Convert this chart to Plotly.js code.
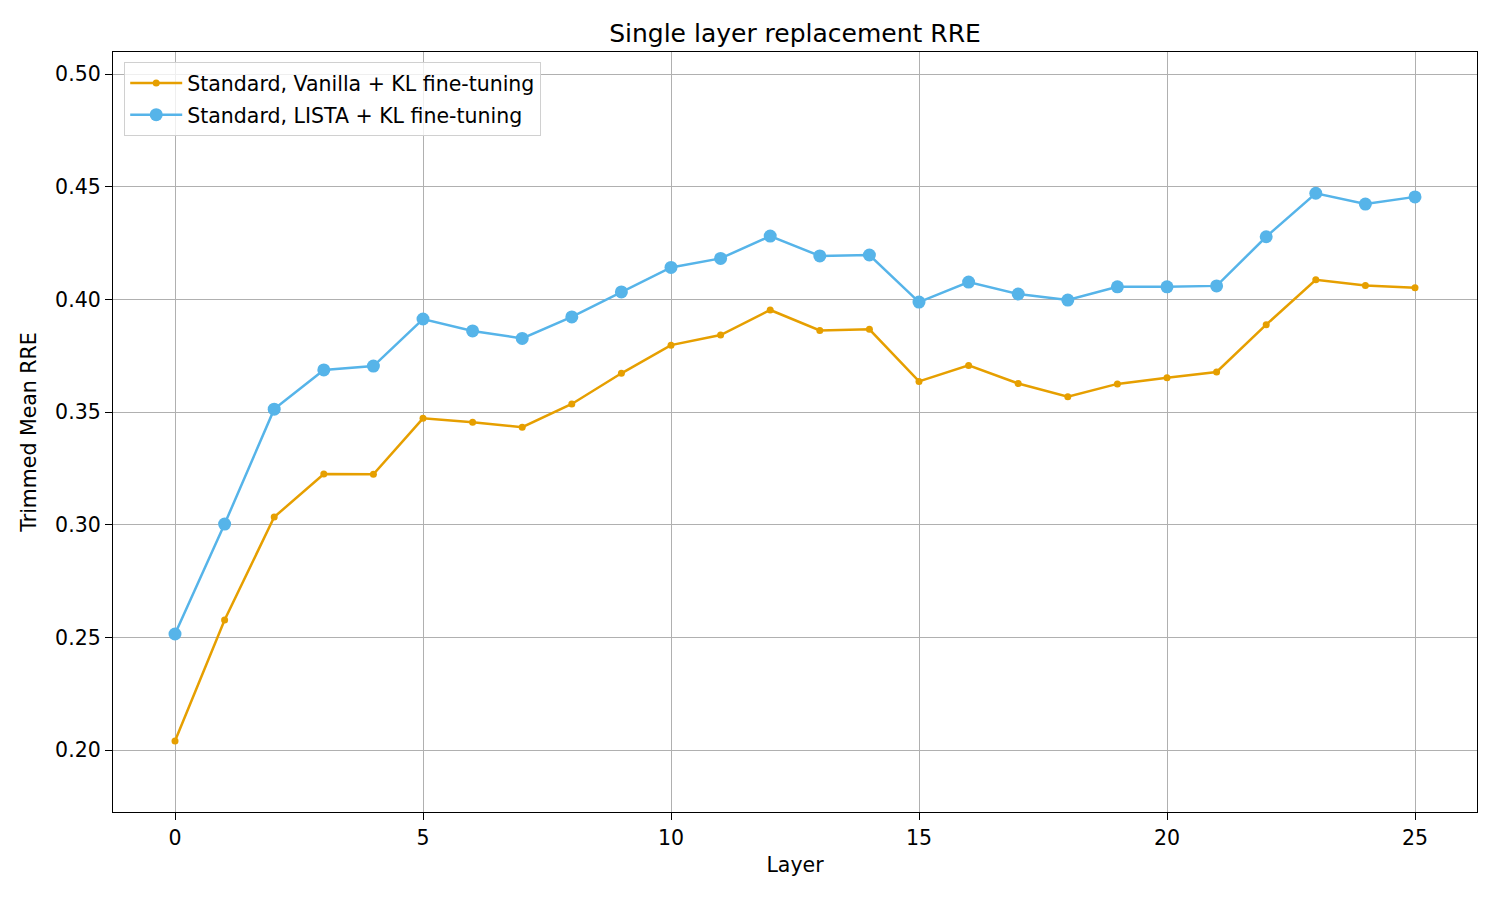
<!DOCTYPE html>
<html>
<head>
<meta charset="utf-8">
<script src="https://cdn.plot.ly/plotly-3.0.1.min.js"></script>
<style>
  body { margin: 0; background: #fff; }
  #myDiv { width: 1500px; height: 900px; }
</style>
</head>
<body>
<div id="myDiv"></div>
<script>
var layers = [0, 1, 2, 3, 4, 5, 6, 7, 8, 9, 10, 11, 12, 13, 14, 15, 16, 17, 18, 19, 20, 21, 22, 23, 24, 25];

var vanillaKL = [0.204, 0.2577, 0.3034, 0.3225, 0.3224, 0.3472, 0.3455, 0.3433, 0.3536, 0.3672,
  0.3797, 0.3842, 0.3953, 0.3862, 0.3867, 0.3636, 0.3707, 0.3627, 0.3568, 0.3625,
  0.3652, 0.3678, 0.3888, 0.4087, 0.4062, 0.4052];

var listaKL = [0.2515, 0.3003, 0.3513, 0.3687, 0.3704, 0.3913, 0.386, 0.3827, 0.3922, 0.4033,
  0.4142, 0.4182, 0.4281, 0.4193, 0.4197, 0.3988, 0.4077, 0.4024, 0.3997, 0.4056,
  0.4056, 0.406, 0.4278, 0.4471, 0.4423, 0.4455];

var trace1 = {
  x: layers,
  y: vanillaKL,
  name: 'Standard, Vanilla + KL fine-tuning',
  legendgroup: 'a',
  type: 'scatter',
  mode: 'lines+markers',
  line: {color: '#E69F00', width: 2.5},
  marker: {color: '#E69F00', size: 7}
};

var trace2 = {
  x: layers,
  y: listaKL,
  name: 'Standard, LISTA + KL fine-tuning',
  legendgroup: 'b',
  type: 'scatter',
  mode: 'lines+markers',
  line: {color: '#56B4E9', width: 2.5},
  marker: {color: '#56B4E9', size: 13}
};

var data = [trace1, trace2];

var axisStyle = {
  showline: true,
  linecolor: '#000',
  linewidth: 1.3,
  mirror: true,
  ticks: 'outside',
  ticklen: 7,
  tickwidth: 1.3,
  tickcolor: '#000',
  showgrid: true,
  gridcolor: '#b0b0b0',
  gridwidth: 1.3,
  zeroline: false,
  tickfont: {size: 20.5, color: '#000'}
};

var layout = {
  width: 1500,
  height: 900,
  font: {family: 'DejaVu Sans', color: '#000'},
  paper_bgcolor: '#fff',
  plot_bgcolor: '#fff',
  margin: {l: 113, r: 23, t: 52, b: 88},
  title: {text: 'Single layer replacement RRE', font: {size: 25}, xref: 'paper', x: 0.5, xanchor: 'center', y: 0.963, yanchor: 'middle'},
  xaxis: Object.assign({}, axisStyle, {
    range: [-1.25, 26.25],
    tickvals: [0, 5, 10, 15, 20, 25],
    title: {text: 'Layer', font: {size: 20.5}, standoff: 8}
  }),
  yaxis: Object.assign({}, axisStyle, {
    range: [0.1725, 0.5098],
    tickvals: [0.20, 0.25, 0.30, 0.35, 0.40, 0.45, 0.50],
    tickformat: '.2f',
    title: {text: 'Trimmed Mean RRE', font: {size: 20.5}, standoff: 12}
  }),
  legend: {
    x: 0.008, y: 0.987, xanchor: 'left', yanchor: 'top',
    traceorder: 'grouped',
    tracegroupgap: 2,
    itemwidth: 52,
    bgcolor: 'rgba(255,255,255,0.8)',
    bordercolor: '#d0d0d0',
    borderwidth: 1.3,
    font: {size: 20.5}
  },
  showlegend: true
};

Plotly.newPlot('myDiv', data, layout, {displayModeBar: false});
</script>
</body>
</html>
